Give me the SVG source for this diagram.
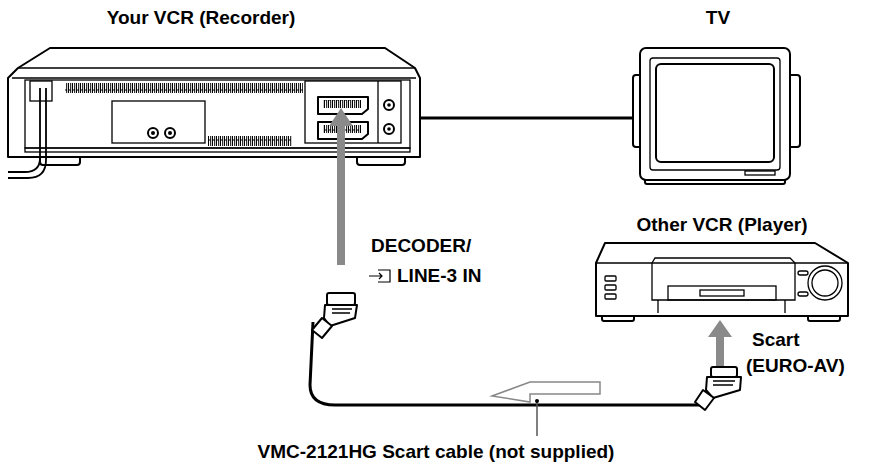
<svg xmlns="http://www.w3.org/2000/svg" width="871" height="470" viewBox="0 0 871 470">
<style>
.l{fill:#fff;stroke:#000;stroke-width:2;stroke-linejoin:round}
.t{fill:none;stroke:#000;stroke-width:1.3}
.tx{font-family:"Liberation Sans",Arial,sans-serif;font-weight:bold;font-size:19px;fill:#000}
.g{fill:#8a8a8a}
</style>
<defs>
<pattern id="v" width="4" height="10" patternUnits="userSpaceOnUse"><rect x="0.5" y="0" width="2.2" height="10" fill="none" stroke="#000" stroke-width="1"/></pattern>
</defs>
<rect width="871" height="470" fill="#fff"/>
<g id="vcr">
<rect class="l" x="40" y="150" width="40" height="15" rx="3"/>
<rect class="l" x="357" y="150" width="48" height="15" rx="3"/>
<path class="l" d="M50,48 L385,48 L415,68 L420,78 L420,157 L8,157 L8,78 L18,68 Z"/>
<path class="t" d="M18,68 L415,68 M12,78 L416,78"/>
<rect class="t" x="25" y="80" width="385" height="68"/>
<rect class="t" x="25" y="148" width="385" height="4"/>
<rect class="t" x="30" y="81" width="22" height="20"/>
<rect x="65" y="83" width="238" height="10" fill="url(#v)"/>
<rect class="t" x="112" y="101" width="93" height="42"/>
<circle class="l" cx="153" cy="133" r="5"/><circle cx="153" cy="133" r="2"/>
<circle class="l" cx="170" cy="133" r="5"/><circle cx="170" cy="133" r="2"/>
<rect x="208" y="136" width="84" height="10" fill="url(#v)"/>
<rect class="t" x="305" y="81" width="96" height="62"/>
<line class="t" x1="378" y1="81" x2="378" y2="143"/>
<path class="l" d="M318,97 L368,97 L368,109 L362,114 L318,114 Z"/>
<rect x="323" y="100" width="38" height="8" fill="url(#v)"/>
<path class="l" d="M318,122 L368,122 L368,134 L362,139 L318,139 Z"/>
<rect x="323" y="125" width="38" height="8" fill="url(#v)"/>
<circle class="l" cx="389" cy="105" r="5"/><circle cx="389" cy="105" r="1.8"/>
<circle class="l" cx="389" cy="129" r="5"/><circle cx="389" cy="129" r="1.8"/>
<path d="M40,88 L40,158 Q40,172 25,172 L8,172 M46,88 L46,160 Q46,178 28,178 L8,178" fill="none" stroke="#000" stroke-width="1.8"/>
</g>
<g id="tv">
<rect class="l" x="633" y="75" width="12" height="72" rx="3"/>
<rect class="l" x="785" y="75" width="15" height="72" rx="3"/>
<rect class="l" x="645" y="178" width="140" height="6" rx="2"/>
<rect class="l" x="640" y="48" width="150" height="132" rx="6"/>
<rect class="t" x="650" y="58" width="130" height="112" rx="3"/>
<rect class="l" x="656" y="64" width="118" height="98" rx="5"/>
<rect class="t" x="745" y="171" width="30" height="4"/>
</g>
<g id="vcr2">
<rect class="l" x="602" y="314" width="32" height="7" rx="2"/>
<rect class="l" x="808" y="314" width="32" height="7" rx="2"/>
<path class="l" d="M605,243 L815,243 L848,263 L848,316 L596,316 L596,263 Z"/>
<line class="t" x1="596" y1="263" x2="848" y2="263"/>
<path class="t" d="M652,263 L655,258 L790,258 L795,263 L795,300 L652,300 Z"/>
<rect class="t" x="668" y="286" width="108" height="14"/>
<rect class="t" x="700" y="290" width="44" height="6"/>
<path class="t" d="M658,300 L658,313 M785,300 L785,313"/>
<rect class="t" x="605" y="276" width="11" height="5" rx="1"/>
<rect class="t" x="605" y="285" width="11" height="5" rx="1"/>
<rect class="t" x="605" y="294" width="11" height="5" rx="1"/>
<rect class="t" x="798" y="271" width="10" height="4" rx="2"/>
<rect class="t" x="798" y="292" width="10" height="4" rx="2"/>
<circle class="t" cx="825" cy="283" r="17"/>
<circle class="t" cx="825" cy="283" r="13"/>
</g>
<g id="connectors">
<line x1="420" y1="118" x2="634" y2="118" stroke="#000" stroke-width="3"/>
<path d="M313,322 L310,385 Q310,405 335,405 L700,405" fill="none" stroke="#000" stroke-width="3"/>
<path class="g" d="M337,265 L337,126 L329,126 L341,108 L353,126 L345,126 L345,265 Z"/>
<path class="g" d="M716,367 L716,337 L708,337 L720,320 L732,337 L724,337 L724,367 Z"/>
<path d="M600,382 L600,394 L530,394 L530,402 L492,396 L530,382 Z" fill="#fff" stroke="#888" stroke-width="1.5"/>
<line x1="537" y1="400" x2="537" y2="436" stroke="#555" stroke-width="1.5"/>
<circle cx="537" cy="401" r="2" fill="#000"/>
</g>
<g id="plug1">
<rect class="l" x="327" y="293" width="28" height="12" rx="2"/>
<path class="l" d="M325,305 L357,305 L355,318 L330,326 L324,318 Z"/>
<path class="t" d="M332,309 L352,309 M332,313 L350,313"/>
<path class="l" d="M322,318 L332,326 L322,338 L312,330 Z"/>
</g>
<g id="plug2">
<rect class="l" x="711" y="367" width="26" height="10" rx="2"/>
<path class="l" d="M707,377 L741,377 L740,390 L713,398 L706,390 Z"/>
<path class="t" d="M713,381 L735,381 M713,385 L733,385"/>
<path class="l" d="M703,390 L714,398 L705,410 L695,402 Z"/>
</g>
<text class="tx" x="201" y="24" text-anchor="middle">Your VCR (Recorder)</text>
<text class="tx" x="718" y="24" text-anchor="middle">TV</text>
<text class="tx" x="371" y="252">DECODER/</text>
<g fill="none" stroke="#000" stroke-width="1.2"><path d="M369,276 L382,276 M379,273 L382,276 L379,279 M378,270 L390,270 L390,282 L378,282"/></g>
<text class="tx" x="397" y="282">LINE-3 IN</text>
<text class="tx" x="722" y="231" text-anchor="middle">Other VCR (Player)</text>
<text class="tx" x="752" y="346">Scart</text>
<text class="tx" x="746" y="372">(EURO-AV)</text>
<text class="tx" x="436" y="458" text-anchor="middle">VMC-2121HG Scart cable (not supplied)</text>
</svg>
